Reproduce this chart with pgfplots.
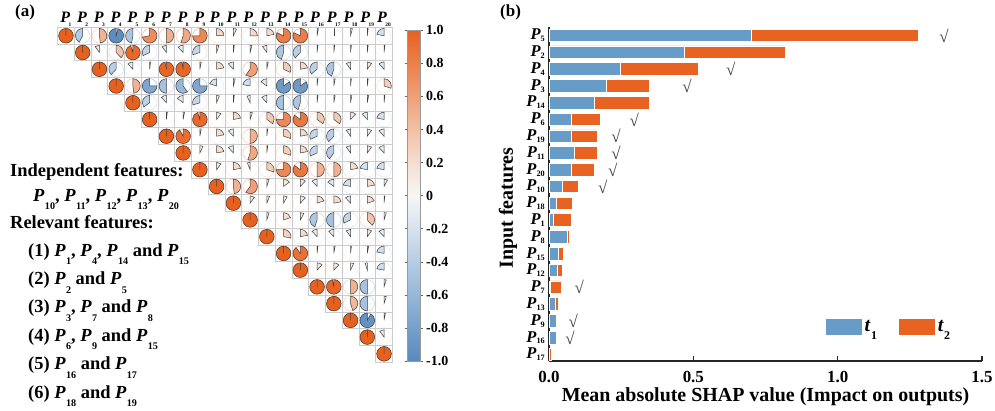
\documentclass[border=0pt]{standalone}
\usepackage{fontspec}
\setmainfont{Liberation Serif}
\usepackage{pgfplots}
\pgfplotsset{compat=1.18}
\usepackage{pgfplotstable}

\definecolor{tblue}{RGB}{103,156,201}
\definecolor{torange}{RGB}{232,98,33}

% feature name: bold italic P with a lowered bold index
% #1 index scale, #2 drop, #3 kern before the index, #4 index
\newcommand\Psub[4]{\textbf{\textit{P}}\kern#3\raisebox{#2}{\scalebox{#1}{\textbf{#4}}}}
\newcommand\PP[1]{\Psub{0.55}{-0.45em}{0.02em}{#1}}   % running text
\newcommand\PB[1]{\Psub{0.5}{-0.12em}{0em}{#1}}       % bar labels
\newcommand\PH[1]{\Psub{0.34}{-0.28em}{-0.1em}{#1}}   % matrix header
\newcommand\TT[1]{\textbf{\textit{t}}\kern0.02em\raisebox{-0.38em}{\scalebox{0.6}{\textbf{#1}}}}
\newcommand\lfont{\bfseries\fontsize{18.5}{22}\selectfont}

\pgfdeclareplotmark{blank}{}

% upper triangle of the correlation matrix: row i, column j, coefficient r
\pgfplotstableread{
i j r
1 1 1
1 2 -0.42
1 3 0.48
1 4 -0.96
1 5 -0.47
1 6 0.72
1 7 0.50
1 8 0.55
1 9 0.75
1 10 0.24
1 11 0.07
1 12 0.25
1 13 0.22
1 14 0.82
1 15 0.82
1 16 0.03
1 17 0.00
1 18 0.04
1 19 0.02
1 20 -0.22
2 2 1
2 3 -0.10
2 4 0.38
2 5 0.95
2 6 -0.32
2 7 -0.10
2 8 -0.12
2 9 -0.30
2 10 0.05
2 11 0.02
2 12 0.04
2 13 -0.10
2 14 -0.45
2 15 -0.38
2 16 0.02
2 17 0.02
2 18 0.02
2 19 0.02
2 20 0.02
3 3 1
3 4 -0.38
3 5 -0.12
3 6 0.02
3 7 0.97
3 8 0.97
3 9 0.03
3 10 0.22
3 11 -0.12
3 12 0.60
3 13 0.03
3 14 0.32
3 15 0.22
3 16 -0.36
3 17 -0.45
3 18 -0.10
3 19 0.10
3 20 -0.12
4 4 1
4 5 0.48
4 6 -0.75
4 7 -0.50
4 8 -0.60
4 9 -0.75
4 10 -0.20
4 11 0.04
4 12 -0.22
4 13 -0.15
4 14 -0.85
4 15 -0.85
4 16 0.02
4 17 0.03
4 18 0.02
4 19 0.02
4 20 0.30
5 5 1
5 6 -0.35
5 7 -0.12
5 8 -0.15
5 9 -0.30
5 10 0.06
5 11 0.02
5 12 -0.07
5 13 -0.12
5 14 -0.50
5 15 -0.45
5 16 0.02
5 17 0.03
5 18 0.03
5 19 0.03
5 20 0.02
6 6 1
6 7 0.02
6 8 0.03
6 9 0.95
6 10 0.10
6 11 0.22
6 12 0.05
6 13 0.35
6 14 0.75
6 15 0.85
6 16 0.35
6 17 0.35
6 18 0.12
6 19 -0.12
6 20 -0.22
7 7 1
7 8 0.92
7 9 0.03
7 10 0.22
7 11 -0.12
7 12 0.50
7 13 0.02
7 14 0.30
7 15 0.22
7 16 -0.32
7 17 -0.38
7 18 -0.10
7 19 0.10
7 20 -0.12
8 8 1
8 9 0.07
8 10 0.22
8 11 -0.12
8 12 0.55
8 13 0.02
8 14 0.30
8 15 0.22
8 16 -0.32
8 17 -0.40
8 18 -0.10
8 19 0.10
8 20 -0.12
9 9 1
9 10 0.10
9 11 0.22
9 12 -0.06
9 13 0.30
9 14 0.75
9 15 0.85
9 16 0.50
9 17 0.50
9 18 0.22
9 19 -0.22
9 20 -0.22
10 10 1
10 11 0.48
10 12 0.60
10 13 0.05
10 14 0.15
10 15 0.12
10 16 -0.12
10 17 -0.15
10 18 -0.22
10 19 0.22
10 20 0.08
11 11 1
11 12 0.10
11 13 0.06
11 14 0.08
11 15 0.12
11 16 0.20
11 17 0.22
11 18 -0.12
11 19 0.20
11 20 0.02
12 12 1
12 13 0.05
12 14 0.20
12 15 0.08
12 16 -0.45
12 17 -0.50
12 18 -0.32
12 19 0.38
12 20 0.05
13 13 1
13 14 0.28
13 15 0.22
13 16 -0.12
13 17 -0.12
13 18 -0.10
13 19 0.10
13 20 -0.12
14 14 1
14 15 0.90
14 16 0.02
14 17 0.03
14 18 0.02
14 19 0.03
14 20 -0.22
15 15 1
15 16 0.12
15 17 0.12
15 18 0.07
15 19 -0.05
15 20 -0.22
16 16 1
16 17 0.97
16 18 0.50
16 19 -0.50
16 20 0.05
17 17 1
17 18 0.45
17 19 -0.50
17 20 0.05
18 18 1
18 19 -0.92
18 20 0.03
19 19 1
19 20 -0.10
20 20 1
}\corrtab

% mean absolute SHAP values, top bar (P5) at y=19
\pgfplotstableread{
y t1 t2
19 0.700 0.580
18 0.469 0.348
17 0.248 0.269
16 0.197 0.150
15 0.158 0.189
14 0.079 0.098
13 0.078 0.089
12 0.087 0.080
11 0.078 0.079
10 0.047 0.055
9 0.027 0.055
8 0.016 0.060
7 0.065 0.007
6 0.034 0.016
5 0.030 0.017
4 0.006 0.036
3 0.021 0.011
2 0.027 0.003
1 0.027 0.001
0 0.000 0.008
}\shaptab

% features marked with a check
\pgfplotstableread{
y x
19 1.368
17 0.630
16 0.478
14 0.295
13 0.232
12 0.232
11 0.221
10 0.186
4 0.105
2 0.084
1 0.073
}\checktab

\begin{document}
\begin{tikzpicture}[x=1bp,y=1bp]
\useasboundingbox (0bp,0bp) rectangle (995bp,411bp);

% ---------- (a) correlation matrix ----------
\begin{axis}[
  at={(57.6bp,48.8bp)}, anchor=south west, scale only axis,
  width=334.8bp, height=334.8bp,
  xmin=0.5, xmax=20.5, ymin=0.5, ymax=20.5,
  clip=false,
  axis line style={draw=none}, tick style={draw=none},
  ytick=\empty,
  xtick={1,...,20},
  xticklabels={{\PH{1}},{\PH{2}},{\PH{3}},{\PH{4}},{\PH{5}},
    {\PH{6}},{\PH{7}},{\PH{8}},{\PH{9}},{\PH{10}},
    {\PH{11}},{\PH{12}},{\PH{13}},{\PH{14}},{\PH{15}},
    {\PH{16}},{\PH{17}},{\PH{18}},{\PH{19}},{\PH{20}}},
  xticklabel pos=upper,
  xticklabel style={anchor=south, inner sep=0pt, yshift=0.6bp, font=\fontsize{16}{16}\selectfont},
  colormap={corrmap}{rgb255=(88,138,190) rgb255=(118,160,203) rgb255=(150,183,216)
    rgb255=(182,205,228) rgb255=(214,226,238) rgb255=(246,246,244) rgb255=(245,222,208)
    rgb255=(242,192,166) rgb255=(239,160,121) rgb255=(236,128,76) rgb255=(232,96,30)},
  point meta min=-1, point meta max=1,
  colorbar,
  colorbar style={
    at={(parent axis.south east)}, anchor=south west, xshift=6.6bp, yshift=1bp,
    scale only axis, width=12.5bp, height=331bp,
    ytick={-1,-0.8,-0.6,-0.4,-0.2,0,0.2,0.4,0.6,0.8,1},
    yticklabels={-1.0,-0.8,-0.6,-0.4,-0.2,0,0.2,0.4,0.6,0.8,1.0},
    yticklabel style={font=\bfseries\fontsize{14}{14}\selectfont, inner sep=1bp, xshift=2bp},
    axis line style={draw=black!40, line width=0.6bp},
    ytick style={draw=black!60, line width=0.6bp},
    tick align=outside, major tick length=3bp,
  },
]
% pie glyph: wedge of |r| of the disc, clockwise for r>0, counter-clockwise for r<0;
% the transformed meta runs 0..1000 over r=-1..1, so the end angle is 450-0.72*T
\addplot[scatter, only marks, mark=blank, point meta=explicit,
  scatter/@pre marker code/.code={%
    \pgfplotscolormapdefinemappedcolor{\pgfplotspointmetatransformed}%
    \begin{scope}
    \pgfkeys{/pgf/fpu=false}%
    \pgfmathsetmacro\endang{450-0.72*\pgfplotspointmetatransformed}%
    \draw[black!20, line width=0.8bp] (-8.37bp,-8.37bp) rectangle (8.37bp,8.37bp);
    \draw[mapped color, opacity=0.6, line width=0.6bp] (0bp,0bp) circle[radius=7.3bp];
    \filldraw[fill=mapped color, draw=black!75, line width=0.5bp]
      (0bp,0bp) -- (0bp,7.3bp) arc[start angle=90, end angle=\endang, radius=7.3bp] -- cycle;
  },
  scatter/@post marker code/.code={\end{scope}},
] table[x=j, y expr=21-\thisrow{i}, meta=r] {\corrtab};
\end{axis}

% ---------- (b) SHAP bars ----------
\begin{axis}[
  at={(549bp,50bp)}, anchor=south west, scale only axis,
  width=433bp, height=334.3bp,
  xmin=0, xmax=1.5, ymin=-0.39, ymax=19.52,
  xbar stacked, bar width=12.6bp,
  axis x line*=bottom, axis y line*=left,
  axis line style={line width=1.3bp, black!85},
  xtick={0,0.5,1,1.5}, xticklabels={0.0,0.5,1.0,1.5},
  xtick style={line width=1.2bp, black!85}, major tick length=4.5bp, tick align=inside,
  xticklabel style={anchor=north, inner sep=0pt, yshift=-10.5bp, font=\bfseries\fontsize{17}{17}\selectfont},
  ytick={0,...,19},
  yticklabels={{\PB{17}},{\PB{16}},{\PB{9}},{\PB{13}},{\PB{7}},{\PB{12}},{\PB{15}},{\PB{8}},{\PB{1}},{\PB{18}},
    {\PB{10}},{\PB{20}},{\PB{11}},{\PB{19}},{\PB{6}},{\PB{14}},{\PB{3}},{\PB{4}},{\PB{2}},{\PB{5}}},
  ytick style={draw=none},
  yticklabel style={anchor=east, inner sep=0pt, xshift=-4bp, font=\fontsize{16.5}{16.5}\selectfont},
  legend columns=2,
  legend style={at={(0.637,0.102)}, anchor=west, draw=none, fill=none, inner sep=0pt,
    font=\fontsize{20}{20}\selectfont,
    /tikz/every even column/.append style={column sep=19bp}},
]
\addplot[fill=tblue, draw=white, line width=0.7bp,
  legend image code/.code={\path[fill=tblue] (0bp,-8.5bp) rectangle (37bp,8.5bp);}]
  table[x=t1, y=y] {\shaptab};
\addplot[fill=torange, draw=white, line width=0.7bp,
  legend image code/.code={\path[fill=torange] (0bp,-8.5bp) rectangle (37bp,8.5bp);}]
  table[x=t2, y=y] {\shaptab};
\legend{\TT{1},\TT{2}}
\end{axis}

% check marks on the same scale
\begin{axis}[
  at={(549bp,50bp)}, anchor=south west, scale only axis,
  width=433bp, height=334.3bp,
  xmin=0, xmax=1.5, ymin=-0.39, ymax=19.52,
  hide axis, clip=false,
]
\addplot[only marks, mark=text,
  text mark={\fontsize{17}{17}\selectfont\color{black!75}√}]
  table[x=x, y=y] {\checktab};
\end{axis}

% axis titles and panel labels
\node[rotate=90, font=\bfseries\fontsize{20}{20}\selectfont] at (508bp,203bp) {Input features};
\node[anchor=base, font=\bfseries\fontsize{20}{20}\selectfont] at (765.5bp,9.3bp) {Mean absolute SHAP value (Impact on outputs)};
\node[anchor=base west, inner sep=0pt, font=\bfseries\fontsize{17}{17}\selectfont] at (15bp,394bp) {(a)};
\node[anchor=base west, inner sep=0pt, font=\bfseries\fontsize{17}{17}\selectfont] at (500bp,394bp) {(b)};

% feature groups
\begin{scope}[every node/.style={anchor=base west, inner sep=0pt, font=\lfont}]
\node at (10bp,234.3bp) {Independent features:};
\node at (33bp,209.3bp) {\PP{10}, \PP{11}, \PP{12}, \PP{13}, \PP{20}};
\node at (10bp,182bp) {Relevant features:};
\node at (28bp,154.3bp) {(1) \PP{1}, \PP{4}, \PP{14} and \PP{15}};
\node at (28bp,126bp) {(2) \PP{2} and \PP{5}};
\node at (28bp,98bp) {(3) \PP{3}, \PP{7} and \PP{8}};
\node at (28bp,69.3bp) {(4) \PP{6}, \PP{9} and \PP{15}};
\node at (28bp,41bp) {(5) \PP{16} and \PP{17}};
\node at (28bp,13bp) {(6) \PP{18} and \PP{19}};
\end{scope}
\end{tikzpicture}
\end{document}
